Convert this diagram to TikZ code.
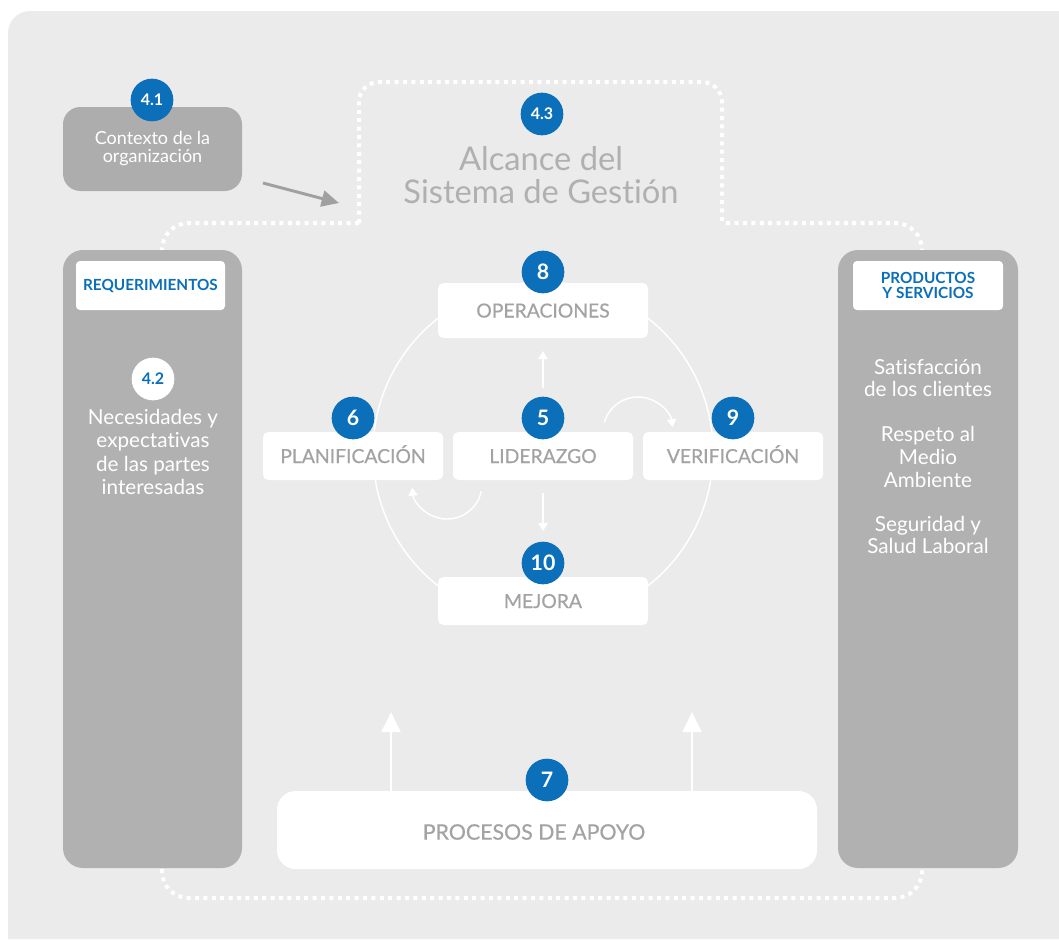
\documentclass[tikz,border=0pt]{standalone}
\usepackage{fontspec}
\setmainfont{Lato}[Ligatures=NoCommon]
\newfontfamily\semifont{Lato}[Ligatures=NoCommon, FakeBold=0.5]
\usetikzlibrary{arrows.meta}

\definecolor{panelbg}{HTML}{EBEBEB}
\definecolor{colgrey}{HTML}{B1B1B1}
\definecolor{ctxgrey}{HTML}{ADADAD}
\definecolor{isoblue}{HTML}{0B6FBA}
\definecolor{boxtext}{HTML}{A3A3A3}
\definecolor{titlegrey}{HTML}{B0B0B0}
\definecolor{arrowgrey}{HTML}{A0A0A0}

\begin{document}
\begin{tikzpicture}[x=0.75pt,y=-0.75pt,
  greycol/.style={fill=colgrey, rounded corners=15pt, inner sep=0pt},
  whitebox/.style={fill=white, rounded corners=4pt, inner sep=0pt, text=boxtext,
    text height=10.5pt, text depth=0pt,
    font=\semifont\fontsize{14.5}{16}\selectfont},
  tag/.style={fill=white, rounded corners=3pt, inner sep=0pt, text=isoblue, align=center,
    font=\bfseries\fontsize{11.5}{11.5}\selectfont},
  badge/.style={circle, fill=isoblue, text=white, inner sep=0pt, minimum size=32pt,
    font=\bfseries\fontsize{16}{16}\selectfont},
  smallbadge/.style={badge, font=\bfseries\fontsize{12}{12}\selectfont},
  coltext/.style={text=white, align=center, font=\fontsize{15.5}{17}\selectfont},
  dotline/.style={white, line width=3pt, dash pattern=on 3pt off 3.3pt},
  flow/.style={white, line width=1.1pt, -{Triangle[length=6pt,width=7pt]}},
  supply/.style={white, line width=2.2pt, -{Triangle[length=15pt,width=14pt]}},
  ctxarrow/.style={arrowgrey, line width=2.2pt, -{Triangle[length=13pt,width=12pt]}}
]
\useasboundingbox (0,0) rectangle (1059,939);

% background panel with a rounded top-left corner
\fill[panelbg] (8,939) -- (8,33) arc[start angle=180, end angle=270, radius=22]
  -- (1059,11) -- (1059,939) -- cycle;

% dotted outline of the scope of the management system
\draw[dotline, rounded corners=20pt] (359,223) -- (162,223) -- (162,898) -- (922,898)
  -- (922,223) -- (722,223);
\draw[dotline, rounded corners=15pt] (359,223) -- (359,82) -- (722,82) -- (722,223);

% scope title
\node[smallbadge] (b43) at (542,114) {4.3};
\node[text=titlegrey, align=center, font=\fontsize{24.5}{25}\selectfont] (scope)
  at (541,175) {Alcance del\\Sistema de Gestión};

% context of the organization
\node[fill=ctxgrey, rounded corners=13pt, minimum width=134.25pt, minimum height=63pt,
  inner sep=0pt, text=white, align=center, font=\fontsize{13.5}{13.5}\selectfont]
  (ctx) at (152.5,149) {Contexto de la\\organización};
\node[smallbadge] (b41) at (152,100) {4.1};
\coordinate (ctxS) at (263,183);
\coordinate (ctxE) at (339,203);
\draw[ctxarrow] (ctxS) -- (ctxE);

% central PDCA ring
\node[circle, draw=white, line width=1.1pt, minimum size=255pt, inner sep=0pt] (ring)
  at (543,452) {};

% side columns
\node[greycol, minimum width=134.25pt, minimum height=463.5pt] (left) at (152.5,559) {};
\node[greycol, minimum width=135pt, minimum height=463.5pt] (right) at (928,559) {};
\node[tag, minimum width=111.75pt, minimum height=36.75pt] (req) at (150.5,285.5)
  {REQUERIMIENTOS};
\node[tag, minimum width=112.5pt, minimum height=36.75pt] (prod) at (928,285.5)
  {PRODUCTOS\\Y SERVICIOS};
\node[circle, fill=white, text=isoblue, inner sep=0pt, minimum size=32pt,
  font=\bfseries\fontsize{12}{12}\selectfont] (b42) at (153,379) {4.2};
\node[coltext, font=\fontsize{15.5}{17.5}\selectfont] (needs) at (153,452)
  {Necesidades y\\expectativas\\de las partes\\interesadas};
\node[coltext] (sat) at (928,378)
  {Satisfacción\\de los clientes};
\node[coltext] (env) at (928,457)
  {Respeto al\\Medio\\Ambiente};
\node[coltext] (safe) at (928,535)
  {Seguridad y\\Salud Laboral};

% process boxes
\node[whitebox, minimum width=157.5pt, minimum height=41.25pt] (ops) at (543,310.5)
  {OPERACIONES};
\node[whitebox, minimum width=135pt, minimum height=36pt] (plan) at (353,456)
  {PLANIFICACIÓN};
\node[whitebox, minimum width=135pt, minimum height=36pt] (lead) at (543,456)
  {LIDERAZGO};
\node[whitebox, minimum width=135pt, minimum height=36pt] (check) at (733,456)
  {VERIFICACIÓN};
\node[whitebox, minimum width=157.5pt, minimum height=36pt] (imp) at (543,601)
  {MEJORA};

\node[badge] (b8) at (543,272) {8};
\node[badge] (b6) at (353,418) {6};
\node[badge] (b5) at (543,418) {5};
\node[badge] (b9) at (733,418) {9};
\node[badge] (b10) at (543,563) {10};

% arrows around leadership
\coordinate (upS) at (543,388);
\coordinate (upE) at (543,351);
\coordinate (dnS) at (543,493);
\coordinate (dnE) at (543,531);
\draw[flow] (upS) -- (upE);
\draw[flow] (dnS) -- (dnE);
\coordinate (rc) at (638,432);
\coordinate (lc) at (447,484);
\draw[flow] ([shift={(196:35)}]rc) arc[start angle=196, end angle=352, radius=35];
\draw[flow] ([shift={(12:35)}]lc) arc[start angle=12, end angle=174, radius=35];

% support processes
\node[fill=white, rounded corners=14pt, minimum width=405pt, minimum height=58.5pt,
  inner sep=0pt] (support) at (547,830) {};
\node[text=boxtext, font=\semifont\fontsize{16}{18}\selectfont] (supportlbl) at (534,832)
  {PROCESOS DE APOYO};
\node[badge] (b7) at (547,780) {7};
\coordinate (sL) at (391,791);
\coordinate (sLE) at (391,712);
\coordinate (sR) at (692,791);
\coordinate (sRE) at (692,712);
\draw[supply] (sL) -- (sLE);
\draw[supply] (sR) -- (sRE);
\end{tikzpicture}
\end{document}
